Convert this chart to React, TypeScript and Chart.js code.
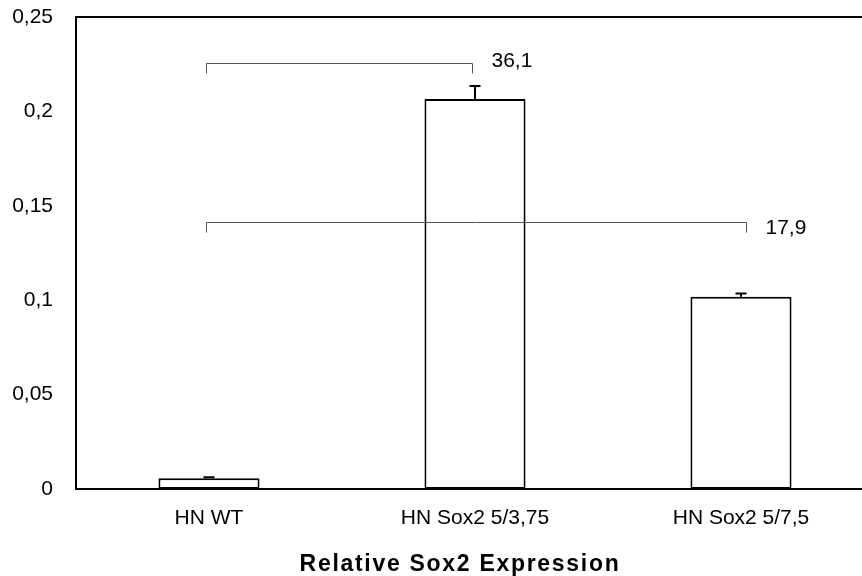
import React, { useEffect, useRef } from 'react';
import { Chart, registerables } from 'chart.js';

Chart.register(...registerables);

// ---- data ----
const categories = ['HN WT', 'HN Sox2 5/3,75', 'HN Sox2 5/7,5'];
const means = [0.0057, 0.2066, 0.1018];
const errors = [0.0005, 0.0069, 0.0018];
const yMin = 0;
const yMax = 0.25;
const yStep = 0.05;
// significance brackets (positions in category index / value units)
const bracketFrom = [-0.01, -0.01];
const bracketTo = [0.99, 2.02];
const bracketY = [0.2258, 0.1414];
const bracketLabelY = [0.2264, 0.1381];
const bracketLabels = ['36,1', '17,9'];
const axisTitle = 'Relative Sox2 Expression';

const FONT = "'Liberation Sans', Arial, Helvetica, sans-serif";

const formatTick = (v: number) => String(Math.round(v * 100) / 100).replace('.', ',');

const annotations = {
  id: 'annotations',
  afterDatasetsDraw(chart: any, _args: any, opts: any) {
    const ctx: CanvasRenderingContext2D = chart.ctx;
    const xs = chart.scales.x;
    const ys = chart.scales.y;
    const area = chart.chartArea;
    ctx.save();
    // top frame line
    ctx.strokeStyle = '#000';
    ctx.lineWidth = 2;
    ctx.beginPath();
    ctx.moveTo(area.left - 1, area.top);
    ctx.lineTo(area.right + 1, area.top);
    ctx.stroke();

    // error bars (upper)
    const meta = chart.getDatasetMeta(0);
    meta.data.forEach((bar: any, i: number) => {
      const cx = bar.x;
      const base = ys.getPixelForValue(means[i]);
      const top = ys.getPixelForValue(means[i] + errors[i]);
      ctx.beginPath();
      ctx.moveTo(cx, base);
      ctx.lineTo(cx, top);
      ctx.moveTo(cx - 5.5, top);
      ctx.lineTo(cx + 5.5, top);
      ctx.stroke();
    });

    // brackets
    ctx.strokeStyle = '#555';
    ctx.lineWidth = 1;
    ctx.fillStyle = '#000';
    ctx.font = `21px ${FONT}`;
    ctx.textAlign = 'left';
    ctx.textBaseline = 'middle';
    bracketLabels.forEach((label, i) => {
      const x1 = Math.round(xs.getPixelForValue(bracketFrom[i])) + 0.5;
      const x2 = Math.round(xs.getPixelForValue(bracketTo[i])) + 0.5;
      const by = Math.round(ys.getPixelForValue(bracketY[i])) + 0.5;
      ctx.beginPath();
      ctx.moveTo(x1, by + 10);
      ctx.lineTo(x1, by);
      ctx.lineTo(x2, by);
      ctx.lineTo(x2, by + 10);
      ctx.stroke();
      ctx.fillText(label, x2 + 19, ys.getPixelForValue(bracketLabelY[i]));
    });

    // axis title
    ctx.font = `bold 23px ${FONT}`;
    (ctx as any).letterSpacing = '1.7px';
    ctx.textAlign = 'center';
    ctx.textBaseline = 'middle';
    ctx.fillText(axisTitle, opts.titleX, opts.titleY);
    ctx.restore();
  },
};

export default function App() {
  const ref = useRef<HTMLCanvasElement | null>(null);

  useEffect(() => {
    if (!ref.current) return;
    const chart = new Chart(ref.current, {
      type: 'bar',
      data: {
        labels: categories,
        datasets: [
          {
            data: means,
            backgroundColor: '#ffffff',
            borderColor: '#000000',
            borderWidth: 2,
            borderSkipped: false,
            barPercentage: 0.38,
            categoryPercentage: 1,
          },
        ],
      },
      options: {
        responsive: false,
        animation: false,
        devicePixelRatio: 1,
        layout: { padding: { top: 17, right: 6, left: 0, bottom: 0 } },
        plugins: {
          legend: { display: false },
          tooltip: { enabled: false },
          annotations: { titleX: 460, titleY: 565 },
        } as any,
        scales: {
          x: {
            type: 'category',
            offset: true,
            grid: { display: false, drawTicks: false },
            border: { display: true, color: '#000', width: 2 },
            ticks: {
              color: '#000',
              font: { family: FONT, size: 21 },
              padding: 17,
              maxRotation: 0,
              autoSkip: false,
            },
            afterFit: (s: any) => {
              s.height = 87;
              s.paddingLeft = 0;
              s.paddingRight = 0;
            },
          },
          y: {
            min: yMin,
            max: yMax,
            grid: { display: false, drawTicks: false },
            border: { display: true, color: '#000', width: 2 },
            ticks: {
              stepSize: yStep,
              color: '#000',
              font: { family: FONT, size: 21 },
              padding: 23,
              callback: (v: any) => formatTick(Number(v)),
            },
            afterFit: (s: any) => {
              s.width = 76;
              s.paddingTop = 0;
              s.paddingBottom = 0;
            },
          },
        },
      } as any,
      plugins: [annotations],
    });
    return () => chart.destroy();
  }, []);

  return (
    <div
      style={{
        position: 'fixed',
        left: 0,
        top: 0,
        width: 862,
        height: 576,
        overflow: 'hidden',
        background: '#fff',
      }}
    >
      <canvas ref={ref} width={880} height={576} style={{ display: 'block' }} />
    </div>
  );
}
